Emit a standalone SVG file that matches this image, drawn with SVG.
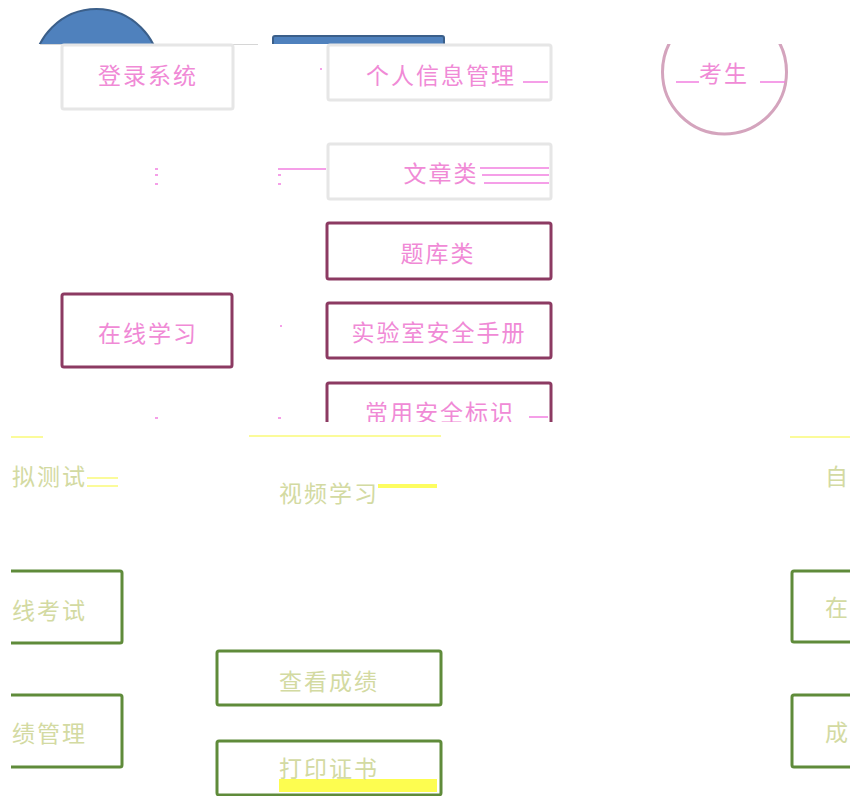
<svg xmlns="http://www.w3.org/2000/svg" width="850" height="796" viewBox="0 0 850 796">
<style>
  .pink { font-family: "Noto Sans CJK SC", sans-serif; font-size: 23px; fill: #f08ad6; letter-spacing: 2px; text-anchor: middle; dominant-baseline: central; }
  .pale { font-family: "Noto Sans CJK SC", sans-serif; font-size: 23px; fill: #d3daa2; letter-spacing: 2px; text-anchor: middle; dominant-baseline: central; }
  .palel { font-family: "Noto Sans CJK SC", sans-serif; font-size: 23px; fill: #d3daa2; letter-spacing: 2px; dominant-baseline: central; }
  .gray { fill: #ffffff; stroke: #e6e6e6; stroke-width: 3; }
  .maroon { fill: #ffffff; stroke: #8c3a62; stroke-width: 3; }
  .green { fill: #ffffff; stroke: #5f8b3a; stroke-width: 3; }
  .pl { stroke: #f27fe0; stroke-width: 1.5; fill: none; }
  .yl { stroke: #fbfb9a; stroke-width: 2; fill: none; }
</style>
<defs>
  <clipPath id="top"><rect x="0" y="0" width="850" height="44"/></clipPath>
  <clipPath id="mid"><rect x="0" y="44" width="850" height="378"/></clipPath>
  <clipPath id="low"><rect x="11" y="430" width="839" height="366"/></clipPath>
</defs>
<rect width="850" height="796" fill="#ffffff"/>

<g id="top-band" clip-path="url(#top)">
  <circle cx="96.5" cy="72" r="63" fill="#4f81bd" stroke="#3b5f8a" stroke-width="2"/>
  <rect x="273" y="36" width="171" height="14" rx="2" fill="#4f81bd" stroke="#3b5f8a" stroke-width="2"/>
</g>
<line x1="40" y1="44.5" x2="258" y2="44.5" stroke="#d6d6d6" stroke-width="1"/>
<line x1="407" y1="44.5" x2="476" y2="44.5" stroke="#e8a0c8" stroke-width="1"/>

<g id="connectors">
  <line class="pl" x1="278" y1="169" x2="326" y2="169"/>
  <line class="pl" x1="155" y1="169" x2="158" y2="169"/>
  <line class="pl" x1="155" y1="175" x2="158" y2="175"/>
  <line class="pl" x1="155" y1="184" x2="158" y2="184"/>
  <line class="pl" x1="278" y1="175" x2="281" y2="175"/>
  <line class="pl" x1="278" y1="184" x2="281" y2="184"/>
  <line class="pl" x1="155" y1="418" x2="158" y2="418"/>
  <line class="pl" x1="278" y1="418" x2="281" y2="418"/>
  <line class="pl" x1="280" y1="326" x2="282" y2="326"/>
  <line class="pl" x1="320" y1="69" x2="322" y2="69"/>
  <line class="yl" x1="11" y1="437" x2="43" y2="437"/>
  <line class="yl" x1="249" y1="436" x2="441" y2="436"/>
  <line class="yl" x1="790" y1="437" x2="850" y2="437"/>
  <line class="yl" x1="87" y1="478" x2="118" y2="478"/>
  <line class="yl" x1="87" y1="486" x2="118" y2="486"/>
  <line stroke="#fdfd60" stroke-width="4" x1="378" y1="486" x2="437" y2="486"/>
</g>

<g id="node-login">
  <rect class="gray" x="62" y="45" width="171" height="64" rx="2"/>
  <text class="pink" x="148" y="74">登录系统</text>
</g>
<g id="node-profile">
  <rect class="gray" x="328" y="45" width="223" height="55" rx="2"/>
  <text class="pink" x="441" y="74">个人信息管理</text>
  <line class="pl" x1="523" y1="82" x2="548" y2="82"/>
</g>
<g id="node-examinee" clip-path="url(#mid)">
  <circle cx="724.5" cy="72" r="62" fill="#ffffff" stroke="#d4a4bd" stroke-width="3"/>
  <text class="pink" x="724" y="72">考生</text>
  <line class="pl" x1="676" y1="82" x2="699" y2="82"/>
  <line class="pl" x1="760" y1="82" x2="785" y2="82"/>
</g>
<g id="node-articles">
  <rect class="gray" x="328" y="144" width="223" height="55" rx="2"/>
  <text class="pink" x="441" y="172">文章类</text>
  <line class="pl" x1="480" y1="168" x2="549" y2="168"/>
  <line class="pl" x1="482" y1="175" x2="549" y2="175"/>
  <line class="pl" x1="484" y1="183" x2="549" y2="183"/>
</g>
<g id="node-questionbank">
  <rect class="maroon" x="327" y="223" width="224" height="56" rx="2"/>
  <text class="pink" x="438" y="252">题库类</text>
</g>
<g id="node-online-learning">
  <rect class="maroon" x="62" y="294" width="170" height="73" rx="2"/>
  <text class="pink" x="148" y="332">在线学习</text>
</g>
<g id="node-lab-manual">
  <rect class="maroon" x="327" y="303" width="224" height="55" rx="2"/>
  <text class="pink" x="439" y="331">实验室安全手册</text>
</g>
<g id="node-safety-signs" clip-path="url(#mid)">
  <rect class="maroon" x="327" y="383" width="224" height="55" rx="2"/>
  <text class="pink" x="440" y="411">常用安全标识</text>
  <line class="pl" x1="529" y1="417" x2="548" y2="417"/>
</g>

<g id="lower-band" clip-path="url(#low)">
  <g id="node-mock-test">
    <text class="palel" x="12" y="475">拟测试</text>
  </g>
  <g id="node-video">
    <text class="pale" x="329" y="492">视频学习</text>
  </g>
  <g id="node-self">
    <text class="palel" x="825" y="475">自</text>
  </g>
  <g id="node-online-exam">
    <rect class="green" x="-60" y="571" width="182" height="72" rx="2"/>
    <text class="palel" x="12" y="609">线考试</text>
  </g>
  <g id="node-score-mgmt">
    <rect class="green" x="-60" y="695" width="182" height="72" rx="2"/>
    <text class="palel" x="12" y="732">绩管理</text>
  </g>
  <g id="node-view-score">
    <rect class="green" x="217" y="651" width="224" height="54" rx="2"/>
    <text class="pale" x="329" y="680">查看成绩</text>
  </g>
  <g id="node-print-cert">
    <rect class="green" x="217" y="741" width="224" height="54" rx="2"/>
    <rect x="279" y="779" width="158" height="13" fill="#fdfd50"/>
    <text class="pale" x="329" y="767">打印证书</text>
  </g>
  <g id="node-right-exam">
    <rect class="green" x="792" y="571" width="120" height="71" rx="2"/>
    <text class="palel" x="825" y="606">在</text>
  </g>
  <g id="node-right-score">
    <rect class="green" x="792" y="695" width="120" height="72" rx="2"/>
    <text class="palel" x="825" y="731">成</text>
  </g>
</g>
</svg>
